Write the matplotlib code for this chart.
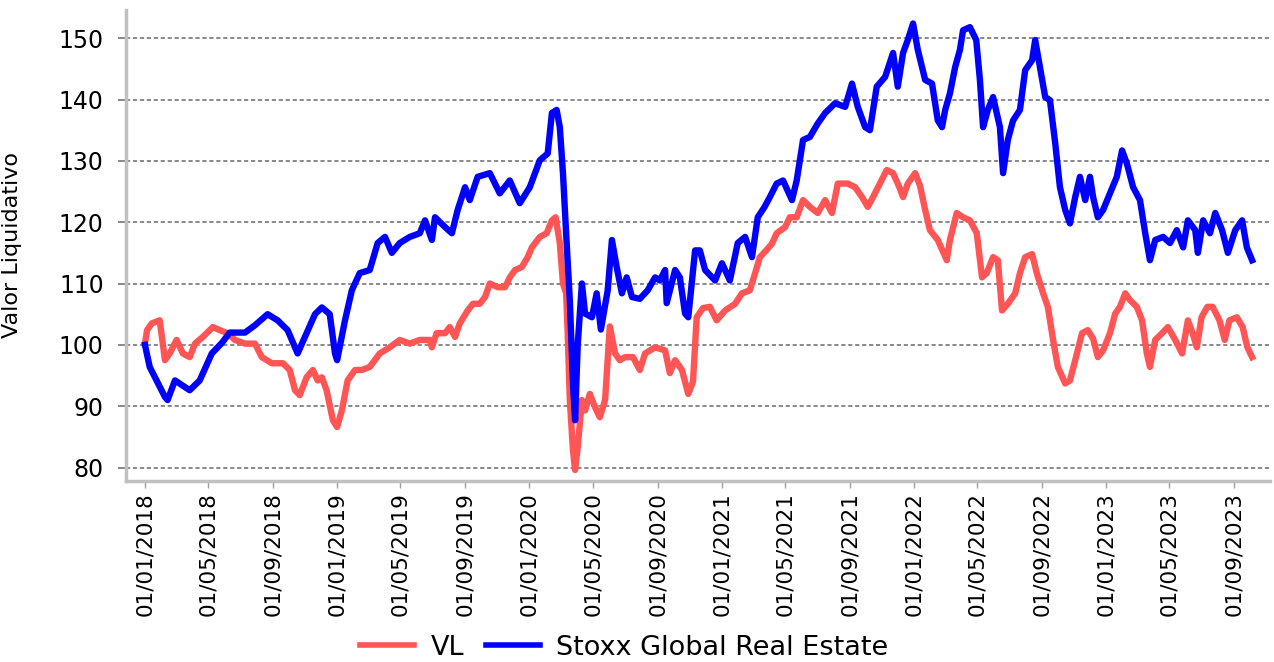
import matplotlib
matplotlib.use("Agg")
import matplotlib.pyplot as plt
import matplotlib.dates as mdates
import pandas as pd

stoxx_dates = ['2018-01-01','2018-01-10','2018-02-08','2018-02-13','2018-02-27','2018-03-27','2018-04-15','2018-05-08','2018-05-27','2018-06-11',
 '2018-07-10','2018-07-29','2018-08-22','2018-09-10','2018-09-29','2018-10-18','2018-11-01','2018-11-20','2018-12-03','2018-12-18',
 '2018-12-28','2019-01-01','2019-01-16','2019-01-29','2019-02-13','2019-03-04','2019-03-19','2019-04-02','2019-04-15','2019-04-30',
 '2019-05-19','2019-06-07','2019-06-17','2019-06-30','2019-07-06','2019-07-25','2019-08-07','2019-08-18','2019-09-01','2019-09-10',
 '2019-09-25','2019-10-18','2019-11-06','2019-11-25','2019-12-14','2020-01-02','2020-01-21','2020-02-05','2020-02-13','2020-02-22',
 '2020-02-28','2020-03-05','2020-03-11','2020-03-18','2020-03-24','2020-03-28','2020-04-02','2020-04-10','2020-04-16','2020-04-29',
 '2020-05-08','2020-05-16','2020-05-29','2020-06-06','2020-06-15','2020-06-25','2020-07-04','2020-07-14','2020-07-29','2020-08-13',
 '2020-08-27','2020-09-05','2020-09-15','2020-09-18','2020-10-04','2020-10-13','2020-10-23','2020-10-29','2020-11-11','2020-11-20',
 '2020-11-30','2020-12-19','2021-01-01','2021-01-16','2021-01-31','2021-02-14','2021-02-27','2021-03-10','2021-03-23','2021-04-02',
 '2021-04-15','2021-04-27','2021-05-14','2021-05-23','2021-06-04','2021-06-17','2021-07-02','2021-07-16','2021-08-04','2021-08-23',
 '2021-09-05','2021-09-16','2021-09-30','2021-10-09','2021-10-22','2021-11-07','2021-11-22','2021-12-01','2021-12-11','2021-12-20',
 '2021-12-30','2022-01-08','2022-01-22','2022-02-04','2022-02-15','2022-02-23','2022-03-01','2022-03-10','2022-03-20','2022-03-29',
 '2022-04-04','2022-04-17','2022-04-29','2022-05-06','2022-05-12','2022-05-21','2022-05-31','2022-06-13','2022-06-19','2022-06-28',
 '2022-07-08','2022-07-21','2022-07-31','2022-08-13','2022-08-19','2022-08-28','2022-09-07','2022-09-16','2022-09-26','2022-10-05',
 '2022-10-15','2022-10-24','2022-11-03','2022-11-12','2022-11-22','2022-12-01','2022-12-07','2022-12-16','2022-12-26','2023-01-08',
 '2023-01-21','2023-01-31','2023-02-09','2023-02-21','2023-03-06','2023-03-16','2023-03-25','2023-04-04','2023-04-19','2023-05-02',
 '2023-05-15','2023-05-27','2023-06-05','2023-06-19','2023-06-24','2023-07-04','2023-07-17','2023-07-27','2023-08-09','2023-08-20',
 '2023-09-03','2023-09-16','2023-09-25','2023-10-05']
stoxx_values = [100.0, 96.4, 91.5, 91.0, 94.2, 92.6, 94.2, 98.6, 100.3, 102.0,
 102.0, 103.2, 105.0, 104.0, 102.4, 98.6, 101.3, 105.0, 106.1, 105.0,
 98.6, 97.5, 104.0, 108.9, 111.7, 112.2, 116.6, 117.6, 115.0, 116.6,
 117.6, 118.2, 120.3, 117.1, 120.8, 119.2, 118.2, 122.0, 125.7, 123.6,
 127.4, 128.0, 124.7, 126.8, 123.1, 125.7, 130.1, 131.2, 137.8, 138.3,
 135.5, 128.0, 118.2, 107.3, 93.7, 87.7, 100.0, 110.0, 105.1, 104.5,
 108.4, 102.5, 108.9, 117.1, 112.7, 108.4, 111.0, 107.8, 107.5, 108.9,
 111.0, 110.5, 112.2, 106.8, 112.2, 111.0, 105.1, 104.5, 115.4, 115.4,
 112.2, 110.5, 113.3, 110.5, 116.6, 117.6, 114.3, 120.8, 122.5, 124.1,
 126.3, 126.8, 123.6, 126.8, 133.4, 133.9, 136.1, 137.8, 139.4, 138.8,
 142.6, 138.8, 135.5, 135.0, 142.1, 143.7, 147.6, 142.1, 147.6, 149.7,
 152.4, 148.1, 143.2, 142.6, 136.6, 135.5, 138.3, 141.0, 145.3, 148.1,
 151.3, 151.8, 149.7, 143.2, 135.5, 138.3, 140.4, 135.5, 128.0, 133.4,
 136.6, 138.3, 144.8, 146.4, 149.7, 145.3, 140.4, 139.9, 132.9, 125.7,
 122.0, 119.8, 124.1, 127.4, 123.6, 127.4, 124.1, 120.8, 122.0, 124.7,
 127.4, 131.7, 129.6, 125.7, 123.6, 118.2, 113.8, 117.1, 117.6, 116.6,
 118.7, 115.9, 120.3, 118.7, 115.0, 120.3, 118.2, 121.5, 118.7, 115.0,
 118.7, 120.3, 115.9, 113.8]

vl_dates = ['2018-01-01','2018-01-05','2018-01-14','2018-01-29','2018-02-08','2018-02-17','2018-03-02','2018-03-14','2018-03-27','2018-04-06',
 '2018-04-21','2018-05-10','2018-05-23','2018-06-07','2018-06-21','2018-07-10','2018-07-29','2018-08-11','2018-08-30','2018-09-20',
 '2018-10-03','2018-10-13','2018-10-22','2018-11-04','2018-11-16','2018-11-25','2018-12-03','2018-12-12','2018-12-24','2019-01-01',
 '2019-01-10','2019-01-21','2019-02-04','2019-02-17','2019-03-04','2019-03-23','2019-04-11','2019-04-30','2019-05-19','2019-06-07',
 '2019-06-26','2019-06-30','2019-07-09','2019-07-25','2019-08-03','2019-08-13','2019-08-22','2019-09-06','2019-09-16','2019-09-29',
 '2019-10-09','2019-10-18','2019-11-02','2019-11-16','2019-11-25','2019-12-05','2019-12-18','2019-12-29','2020-01-06','2020-01-21',
 '2020-02-03','2020-02-13','2020-02-20','2020-02-28','2020-03-05','2020-03-11','2020-03-14','2020-03-18','2020-03-24','2020-03-28',
 '2020-04-02','2020-04-10','2020-04-16','2020-04-25','2020-05-05','2020-05-14','2020-05-24','2020-06-02','2020-06-12','2020-06-21',
 '2020-07-01','2020-07-16','2020-07-29','2020-08-08','2020-08-27','2020-09-15','2020-09-24','2020-10-04','2020-10-17','2020-10-29',
 '2020-11-07','2020-11-14','2020-11-26','2020-12-09','2020-12-22','2021-01-07','2021-01-26','2021-02-08','2021-02-23','2021-03-05',
 '2021-03-14','2021-03-27','2021-04-06','2021-04-15','2021-05-01','2021-05-10','2021-05-23','2021-06-04','2021-06-17','2021-07-02',
 '2021-07-16','2021-07-29','2021-08-09','2021-08-28','2021-09-11','2021-09-24','2021-10-05','2021-10-15','2021-10-28','2021-11-10',
 '2021-11-22','2021-12-04','2021-12-11','2021-12-20','2022-01-03','2022-01-12','2022-01-22','2022-01-31','2022-02-15','2022-03-04',
 '2022-03-10','2022-03-23','2022-04-04','2022-04-17','2022-04-30','2022-05-10','2022-05-19','2022-05-31','2022-06-09','2022-06-17',
 '2022-06-28','2022-07-12','2022-07-21','2022-07-31','2022-08-13','2022-08-22','2022-09-03','2022-09-12','2022-09-22','2022-10-01',
 '2022-10-15','2022-10-24','2022-11-03','2022-11-16','2022-11-27','2022-12-07','2022-12-16','2022-12-26','2023-01-08','2023-01-18',
 '2023-01-27','2023-02-06','2023-02-15','2023-02-28','2023-03-10','2023-03-19','2023-03-25','2023-04-04','2023-04-17','2023-04-28',
 '2023-05-12','2023-05-25','2023-06-05','2023-06-14','2023-06-22','2023-07-01','2023-07-12','2023-07-22','2023-08-04','2023-08-14',
 '2023-08-23','2023-09-06','2023-09-17','2023-09-26','2023-10-05']
vl_values = [100.2, 102.4, 103.5, 104.0, 97.5, 98.6, 100.8, 98.6, 98.0, 100.2,
 101.3, 102.9, 102.4, 101.9, 100.8, 100.2, 100.2, 98.0, 97.0, 97.0,
 95.9, 92.6, 91.8, 94.7, 95.9, 94.2, 94.7, 92.6, 87.7, 86.6,
 89.3, 94.2, 95.9, 95.9, 96.4, 98.6, 99.6, 100.8, 100.2, 100.8,
 100.8, 99.6, 101.9, 101.9, 102.9, 101.3, 103.5, 105.6, 106.7, 106.7,
 107.8, 110.0, 109.4, 109.4, 111.0, 112.2, 112.7, 114.3, 115.9, 117.6,
 118.2, 120.3, 120.8, 116.6, 110.0, 108.4, 101.9, 91.0, 82.8, 79.6,
 83.3, 91.0, 89.3, 92.0, 89.8, 88.2, 91.0, 103.0, 98.6, 97.5,
 98.0, 98.0, 95.9, 98.6, 99.6, 99.1, 95.4, 97.5, 95.9, 92.0,
 94.0, 104.5, 106.0, 106.2, 104.0, 105.6, 106.7, 108.4, 108.9, 111.7,
 114.3, 115.5, 116.5, 118.2, 119.2, 120.8, 120.8, 123.6, 122.5, 121.5,
 123.6, 121.5, 126.3, 126.3, 125.7, 124.1, 122.5, 124.1, 126.3, 128.5,
 128.0, 125.7, 124.1, 126.3, 128.0, 126.0, 122.0, 118.7, 117.1, 113.8,
 117.1, 121.5, 120.8, 120.3, 118.2, 111.0, 111.7, 114.3, 113.8, 105.6,
 106.7, 108.4, 111.7, 114.3, 114.8, 111.7, 108.4, 106.2, 100.8, 96.4,
 93.7, 94.2, 97.5, 101.9, 102.4, 101.0, 98.0, 99.1, 101.9, 105.1,
 106.2, 108.4, 107.3, 106.2, 104.0, 98.6, 96.4, 100.8, 101.9, 102.9,
 100.8, 98.6, 104.0, 101.9, 99.6, 104.5, 106.2, 106.2, 104.0, 100.8,
 104.0, 104.5, 102.9, 99.6, 98.0]

y_ticks = [80, 90, 100, 110, 120, 130, 140, 150]
series_labels = ['VL', 'Stoxx Global Real Estate']
y_label = 'Valor Liquidativo'

plt.rcParams['font.family'] = ['DejaVu Sans']
plt.rcParams['lines.scale_dashes'] = False

W, H = 1274, 662
fig = plt.figure(figsize=(W / 100, H / 100), dpi=100)
L, R, T, B = 126, 1270, 10, 481
ax = fig.add_axes([L / W, 1 - B / H, (R - L) / W, (B - T) / H])

red = '#ff5555'
blue = '#0000ff'
ax.plot(pd.to_datetime(vl_dates), vl_values, color=red, lw=4.6, label=series_labels[0], zorder=3)
ax.plot(pd.to_datetime(stoxx_dates), stoxx_values, color=blue, lw=4.6, label=series_labels[1], zorder=4)

ax.set_xlim(pd.Timestamp('2017-11-26'), pd.Timestamp('2023-11-08'))
ax.set_ylim(77.8, 154.6)
ax.set_yticks(y_ticks)
ax.xaxis.set_major_locator(mdates.MonthLocator(bymonth=[1, 5, 9], bymonthday=1))
ax.xaxis.set_major_formatter(mdates.DateFormatter('%d/%m/%Y'))

ax.yaxis.grid(True, linestyle=(0, (3, 2)), color='#808080', linewidth=1.3, zorder=1)
ax.xaxis.grid(False)
for s in ['top', 'right']:
    ax.spines[s].set_visible(False)
for s in ['left', 'bottom']:
    ax.spines[s].set_color('#c0c0c0')
    ax.spines[s].set_linewidth(2.5)

ax.tick_params(axis='y', length=6, width=1.3, color='#808080', labelsize=17, pad=10)
ax.tick_params(axis='x', length=5, width=1.0, color='#a0a0a0', labelsize=15.5, pad=3, labelrotation=90)

ax.set_ylabel(y_label, fontsize=16)
ax.yaxis.set_label_coords(-0.091, 0.5)

leg = fig.legend(loc='lower center', bbox_to_anchor=(0.49, -0.035), ncol=2, frameon=False,
                 fontsize=19.5, handlelength=2.0, handletextpad=0.6, columnspacing=0.8)
for h in leg.get_lines():
    h.set_linewidth(4.0)

fig.savefig('out.png', dpi=100)
